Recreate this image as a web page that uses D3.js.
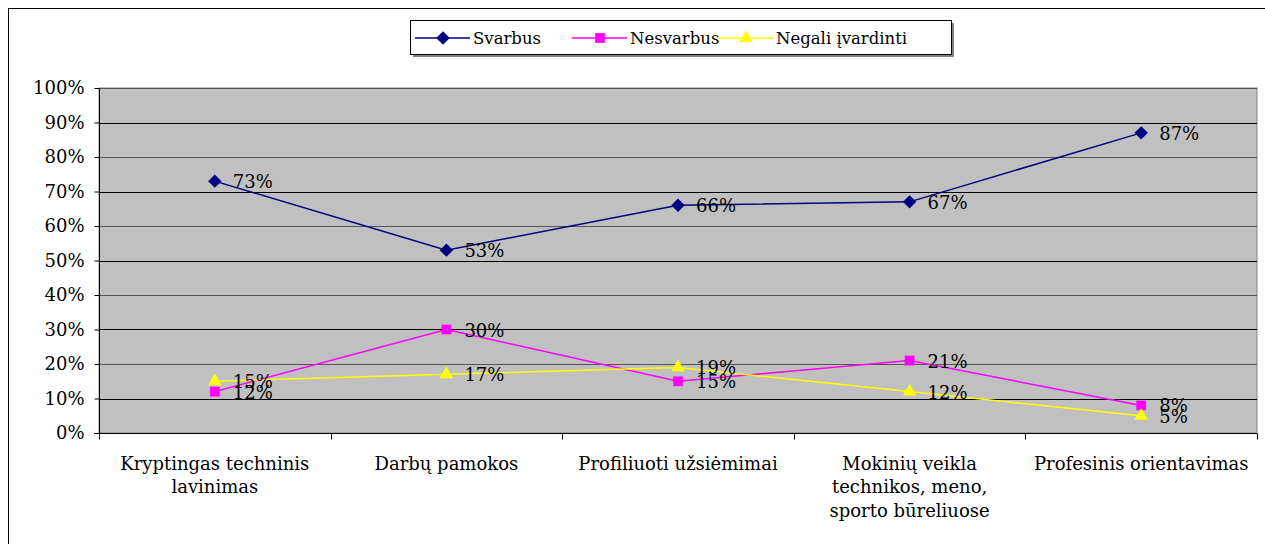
<!DOCTYPE html>
<html><head><meta charset="utf-8">
<script src="https://cdn.jsdelivr.net/npm/d3@7/dist/d3.min.js"></script>
<style>body{margin:0;background:#fff}svg{display:block}</style>
</head><body>
<svg id="c" width="1265" height="544"></svg>
<script>
const categories = [["Kryptingas techninis","lavinimas"],["Darbų pamokos"],["Profiliuoti užsiėmimai"],["Mokinių veikla","technikos, meno,","sporto būreliuose"],["Profesinis orientavimas"]];
const seriesNames = ["Svarbus","Nesvarbus","Negali įvardinti"];
const svarbus = [73,53,66,67,87];
const nesvarbus = [12,30,15,21,8];
const negali = [15,17,19,12,5];
const yTicks = [0,10,20,30,40,50,60,70,80,90,100];
const colors = ["#000080","#FF00FF","#FFFF00"];
const shapes = [d3.symbolDiamond2, d3.symbolSquare, d3.symbolTriangle];
const sizes = [115, 95, 80];
const seriesVals = [svarbus, nesvarbus, negali];

const FONT = "'DejaVu Serif', serif";
const svg = d3.select("#c").style("font-family",FONT);
const L=99, R=1257, T=88, B=433;
const fs = 18;

svg.append("rect").attr("x",8.5).attr("y",8.5).attr("width",1300).attr("height",600).attr("fill","#fff").attr("stroke","#000");

const x = d3.scaleBand().domain(d3.range(categories.length)).range([L,R]);
const y = d3.scaleLinear().domain([0,100]).range([B,T]);

svg.append("rect").attr("x",L).attr("y",T).attr("width",R-L).attr("height",B-T).attr("fill","#C0C0C0").attr("stroke","#808080");

svg.append("g").selectAll("line").data(yTicks.filter(d=>d>0)).join("line")
  .attr("x1",L).attr("x2",R).attr("y1",d=>Math.round(y(d))+0.5).attr("y2",d=>Math.round(y(d))+0.5)
  .attr("stroke",(d,i)=>i%2? "#555":"#000").attr("stroke-width",1);

// y axis
const ya = svg.append("g").attr("transform",`translate(${L+0.5},0)`)
  .call(d3.axisLeft(y).tickValues(yTicks).tickFormat(d=>d+"%").tickSize(5).tickPadding(10));
ya.attr("font-family",FONT);
ya.selectAll("path,line").attr("stroke","#000");
ya.selectAll("text").attr("font-size",fs).attr("fill","#000").style("font-family",FONT);
ya.select(".domain").attr("d",`M0,${T}V${B}`);

// x axis
const xa = svg.append("g").attr("transform",`translate(0,${B+0.5})`);
xa.append("line").attr("x1",L-5).attr("x2",R).attr("stroke","#000");
const bounds = d3.range(categories.length+1).map(i=> i<categories.length? x(i): x(i-1)+x.bandwidth());
xa.selectAll("line.t").data(bounds).join("line").attr("class","t")
  .attr("x1",d=>Math.round(d)+0.5).attr("x2",d=>Math.round(d)+0.5).attr("y1",0).attr("y2",6).attr("stroke","#000");
categories.forEach((lines,i)=>{
  const t = xa.append("text").attr("text-anchor","middle").attr("font-size",fs).attr("fill","#000").style("font-family",FONT);
  lines.forEach((ln,j)=>t.append("tspan").attr("x",x(i)+x.bandwidth()/2).attr("y",36+j*23.5).text(ln));
});

// series
const line = d3.line().x((d,i)=>x(i)+x.bandwidth()/2).y(d=>y(d));
seriesVals.forEach((vals,s)=>{
  svg.append("path").attr("d",line(vals)).attr("fill","none").attr("stroke",colors[s]).attr("stroke-width",1.5);
});
seriesVals.forEach((vals,s)=>{
  svg.append("g").selectAll("path").data(vals).join("path")
    .attr("d",d3.symbol().type(shapes[s]).size(sizes[s]))
    .attr("transform",(d,i)=>`translate(${x(i)+x.bandwidth()/2},${y(d)})`)
    .attr("fill",colors[s]);
});
seriesVals.forEach((vals,s)=>{
  svg.append("g").selectAll("text").data(vals).join("text")
    .attr("x",(d,i)=>x(i)+x.bandwidth()/2+18).attr("y",d=>y(d)+7)
    .attr("font-size",fs).attr("fill","#000").style("font-family",FONT).text(d=>d+"%");
});

// legend
const lg = svg.append("g");
lg.append("rect").attr("x",413).attr("y",23).attr("width",541).attr("height",34).attr("fill","#808080");
lg.append("rect").attr("x",410.5).attr("y",20.5).attr("width",541).attr("height",34).attr("fill","#fff").attr("stroke","#000");
const lx=[415,572,718];
seriesNames.forEach((n,s)=>{
  lg.append("line").attr("x1",lx[s]).attr("x2",lx[s]+55).attr("y1",38).attr("y2",38).attr("stroke",colors[s]).attr("stroke-width",1.5);
  lg.append("path").attr("d",d3.symbol().type(shapes[s]).size(sizes[s])).attr("transform",`translate(${lx[s]+28},38)`).attr("fill",colors[s]);
  lg.append("text").attr("x",lx[s]+58).attr("y",44).attr("font-size",16.5).attr("fill","#000").style("font-family",FONT).text(n);
});
</script>
</body></html>
